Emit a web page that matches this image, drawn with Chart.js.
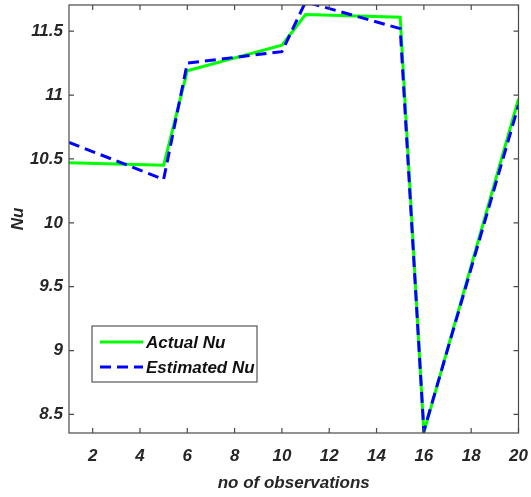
<!DOCTYPE html>
<html>
<head>
<meta charset="utf-8">
<script src="https://cdn.jsdelivr.net/npm/chart.js@4.4.0/dist/chart.umd.min.js"></script>
<style>
  html, body { margin: 0; padding: 0; background: #fff; }
  #wrap { width: 531px; height: 497px; position: relative; }
</style>
</head>
<body>
<div id="wrap"><canvas id="nuChart"></canvas></div>
<script>
// Data
const observations = [1, 5, 6, 10, 11, 15, 16, 20];
const actualNu = [10.47, 10.45, 11.19, 11.39, 11.63, 11.61, 8.36, 10.97];
const estimatedNu = [10.63, 10.34, 11.25, 11.34, 11.73, 11.52, 8.37, 10.92];

const xTicks = [2, 4, 6, 8, 10, 12, 14, 16, 18, 20];
const yTicks = [8.5, 9, 9.5, 10, 10.5, 11, 11.5];

const labelFont = { family: '"Liberation Sans", Arial, sans-serif', size: 17, weight: 'bold', style: 'italic' };
const inkColor = '#262626';

const toPoints = (xs, ys) => xs.map((x, i) => ({ x: x, y: ys[i] }));

// Box around the axes, inward ticks on all sides, and the legend
const framePlugin = {
    id: 'frame',
    afterDatasetsDraw(chart) {
        const { ctx, chartArea: a, scales } = chart;
        const x = scales.x, y = scales.y;
        ctx.save();
        ctx.strokeStyle = '#4a4a4a';
        ctx.lineWidth = 1.2;
        ctx.strokeRect(a.left, a.top, a.right - a.left, a.bottom - a.top);

        ctx.beginPath();
        x.ticks.forEach(t => {
            const px = x.getPixelForValue(t.value);
            ctx.moveTo(px, a.bottom); ctx.lineTo(px, a.bottom - 5);
            ctx.moveTo(px, a.top); ctx.lineTo(px, a.top + 5);
        });
        y.ticks.forEach(t => {
            const py = y.getPixelForValue(t.value);
            ctx.moveTo(a.left, py); ctx.lineTo(a.left + 5, py);
            ctx.moveTo(a.right, py); ctx.lineTo(a.right - 5, py);
        });
        ctx.stroke();

        // legend
        const lx = a.left + 23, ly = a.top + 321;
        const lw = 165, lh = 56;
        ctx.fillStyle = '#fff';
        ctx.fillRect(lx, ly, lw, lh);
        ctx.strokeStyle = '#555';
        ctx.lineWidth = 1.2;
        ctx.strokeRect(lx, ly, lw, lh);

        const items = [chart.data.datasets[1], chart.data.datasets[0]];
        items.forEach((ds, i) => {
            const rowY = ly + 16 + i * 25;
            ctx.beginPath();
            ctx.strokeStyle = ds.borderColor;
            ctx.lineWidth = ds.borderWidth;
            ctx.setLineDash(ds.borderDash || []);
            ctx.moveTo(lx + 8, rowY);
            ctx.lineTo(lx + 51, rowY);
            ctx.stroke();
            ctx.setLineDash([]);
            ctx.fillStyle = '#111';
            ctx.font = 'italic bold 17px "Liberation Sans", Arial, sans-serif';
            ctx.textBaseline = 'middle';
            ctx.textAlign = 'left';
            ctx.fillText(ds.label, lx + 54, rowY + 1);
        });
        ctx.restore();
    }
};

document.addEventListener('DOMContentLoaded', () => {
    const ctx = document.getElementById('nuChart').getContext('2d');

    new Chart(ctx, {
        type: 'scatter',
        data: {
            datasets: [
                {
                    label: 'Estimated Nu',
                    data: toPoints(observations, estimatedNu),
                    showLine: true,
                    borderColor: '#0000ff',
                    backgroundColor: '#0000ff',
                    borderWidth: 3,
                    borderDash: [11, 6],
                    pointRadius: 0,
                    tension: 0,
                    order: 0,
                    clip: 0
                },
                {
                    label: 'Actual Nu',
                    data: toPoints(observations, actualNu),
                    showLine: true,
                    borderColor: '#00ff00',
                    backgroundColor: '#00ff00',
                    borderWidth: 3,
                    pointRadius: 0,
                    tension: 0,
                    order: 1,
                    clip: 0
                }
            ]
        },
        options: {
            responsive: true,
            maintainAspectRatio: false,
            animation: false,
            layout: { padding: { left: 0, right: 12.5, top: 5, bottom: 0 } },
            plugins: {
                legend: { display: false },
                tooltip: { enabled: false }
            },
            scales: {
                x: {
                    type: 'linear',
                    min: 1,
                    max: 20,
                    grid: { display: false, drawTicks: false },
                    border: { display: false },
                    afterBuildTicks: (scale) => { scale.ticks = xTicks.map(v => ({ value: v })); },
                    afterFit: (scale) => {
                        scale.height = 64;
                        scale.paddingLeft = 0;
                        scale.paddingRight = 0;
                    },
                    ticks: {
                        color: inkColor,
                        font: labelFont,
                        padding: 13,
                        maxRotation: 0,
                        autoSkip: false
                    },
                    title: {
                        display: true,
                        text: 'no of observations',
                        color: inkColor,
                        font: labelFont,
                        padding: { top: 0, bottom: 3 }
                    }
                },
                y: {
                    type: 'linear',
                    min: 8.355,
                    max: 11.705,
                    grid: { display: false, drawTicks: false },
                    border: { display: false },
                    afterBuildTicks: (scale) => { scale.ticks = yTicks.map(v => ({ value: v })); },
                    afterFit: (scale) => {
                        scale.width = 69;
                        scale.paddingTop = 0;
                        scale.paddingBottom = 0;
                    },
                    ticks: {
                        color: inkColor,
                        font: labelFont,
                        padding: 6,
                        autoSkip: false,
                        callback: (v) => String(v)
                    },
                    title: {
                        display: true,
                        text: 'Nu',
                        color: inkColor,
                        font: labelFont,
                        padding: { top: 8, bottom: 0 }
                    }
                }
            }
        },
        plugins: [framePlugin]
    });
});
</script>
</body>
</html>
